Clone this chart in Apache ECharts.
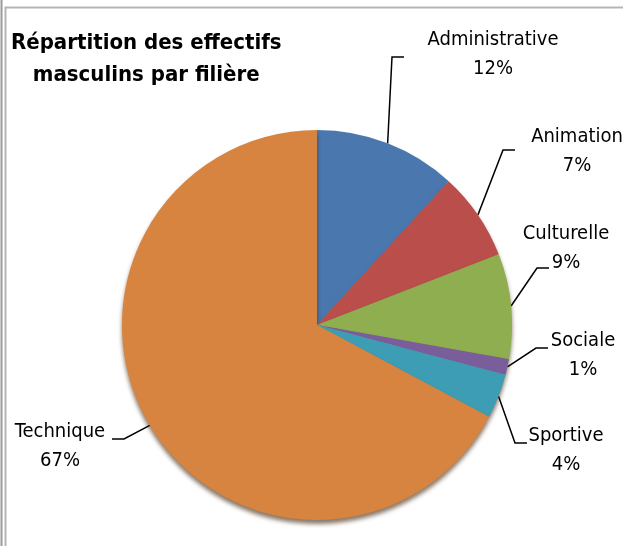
<!DOCTYPE html>
<html>
<head>
<meta charset="utf-8">
<script src="https://cdn.jsdelivr.net/npm/echarts@6/dist/echarts.min.js"></script>
<style>
  html, body { margin: 0; padding: 0; background: #fff; }
  #chart { width: 628px; height: 546px; }
</style>
</head>
<body>
<div id="chart"></div>
<script>
"use strict";

var categories = ['Administrative', 'Animation', 'Culturelle', 'Sociale', 'Sportive', 'Technique'];
var shares = [11.8, 7.3, 8.7, 1.3, 3.7, 67.2];
var colors = ['#4A77AE', '#B94E4A', '#8EAE4F', '#7A5D9B', '#3C9DB5', '#D6843F'];

// label block centre and leader line end, in px
var labelCentre = [[493, 54], [577, 151], [566, 248], [583, 355], [566, 450], [60, 446]];
var lineEnd = [[404, 57], [515, 150], [549, 268], [548, 348], [527, 443], [112, 439]];

var font = '"DejaVu Sans Condensed", "DejaVu Sans", sans-serif';

var chart = echarts.init(document.getElementById('chart'));

var pieData = categories.map(function (name, i) {
    return { name: name, value: shares[i], itemStyle: { color: colors[i] } };
});

chart.setOption({
    animation: false,
    title: {
        left: 6,
        top: 22,
        text: '{a|Répartition des effectifs}\n{a|masculins par filière}',
        textStyle: {
            rich: {
                a: { fontFamily: font, fontWeight: 'bold', fontSize: 22, lineHeight: 32, color: '#000', align: 'center' }
            }
        }
    },
    graphic: [
        { type: 'line', shape: { x1: 1.5, y1: 0, x2: 1.5, y2: 546 }, style: { stroke: '#9a9a9a', lineWidth: 2 } },
        { type: 'polyline', shape: { points: [[5.5, 546], [5.5, 7.5], [623, 7.5]] }, style: { stroke: '#b5b5b5', lineWidth: 2, fill: null } }
    ],
    series: [{
        type: 'pie',
        center: [317, 325],
        radius: 195,
        startAngle: 90,
        clockwise: true,
        avoidLabelOverlap: false,
        itemStyle: {
            shadowColor: 'rgba(60, 30, 0, 0.6)',
            shadowBlur: 4,
            shadowOffsetY: 4
        },
        label: {
            show: true,
            position: 'outside',
            formatter: function (p) {
                return '{n|' + p.name + '}\n{n|' + Math.round(p.value) + '%}';
            },
            rich: {
                n: { fontFamily: font, fontSize: 20, lineHeight: 29, color: '#000', align: 'center' }
            }
        },
        labelLine: {
            show: true,
            length: 10,
            length2: 10,
            lineStyle: { color: '#000', width: 1.5 }
        },
        labelLayout: function (p) {
            var c = labelCentre[p.dataIndex];
            var e = lineEnd[p.dataIndex];
            var a = p.labelLinePoints[0];
            var side = e[0] > a[0] ? 1 : -1;
            var elbow = [e[0] - side * 12, e[1]];
            return {
                x: c[0],
                y: c[1],
                align: 'center',
                verticalAlign: 'middle',
                labelLinePoints: [a, elbow, e]
            };
        },
        data: pieData
    }]
});
</script>
</body>
</html>
